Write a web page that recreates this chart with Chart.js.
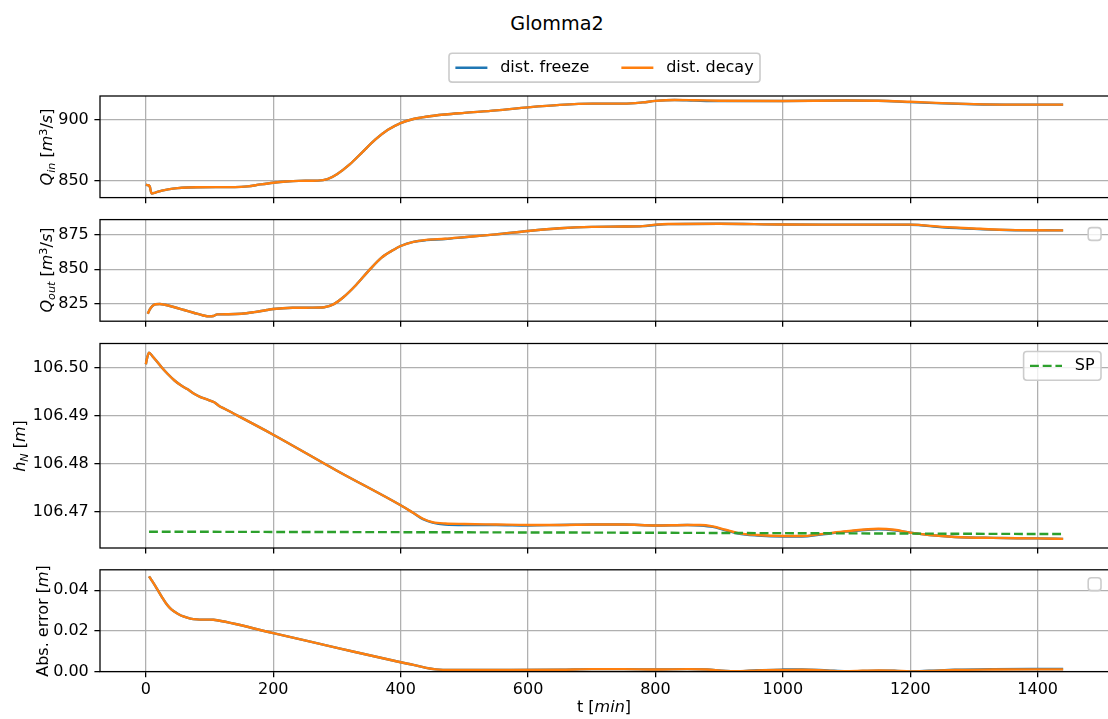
<!DOCTYPE html>
<html>
<head>
<meta charset="utf-8">
<title>Glomma2</title>
<script src="https://cdn.jsdelivr.net/npm/chart.js@4.4.1/dist/chart.umd.min.js"></script>
<style>
  html, body { margin: 0; padding: 0; background: #fff; overflow: hidden; }
  #fig { position: relative; width: 1108px; height: 719px; overflow: hidden;
         font-family: "DejaVu Sans", sans-serif; color: #000; }
  canvas { position: absolute; left: 0; }
  .txt { position: absolute; white-space: nowrap; font-size: 16px; line-height: 1;
         transform: translate(-50%, -50%); }
  .ylab { transform: translate(-50%, -50%) rotate(-90deg); }
  .txt sub, .txt sup { font-size: 70%; line-height: 0; }
  .txt sub { vertical-align: -0.25em; }
  .txt sup { vertical-align: 0.45em; }
  #title { font-size: 19.2px; }
</style>
</head>
<body>
<div id="fig">
  <div class="txt" id="title" style="left:557px; top:24px">Glomma2</div>
  <canvas id="c1"></canvas>
  <canvas id="c2"></canvas>
  <canvas id="c3"></canvas>
  <canvas id="c4"></canvas>
  <div class="txt ylab" style="left:47px; top:147px"><i>Q</i><sub><i>in</i></sub> [<i>m</i><sup>3</sup>/<i>s</i>]</div>
  <div class="txt ylab" style="left:47px; top:270px"><i>Q</i><sub><i>out</i></sub> [<i>m</i><sup>3</sup>/<i>s</i>]</div>
  <div class="txt ylab" style="left:20px; top:446px"><i>h</i><sub><i>N</i></sub> [<i>m</i>]</div>
  <div class="txt ylab" style="left:43px; top:621px">Abs. error [<i>m</i>]</div>
  <div class="txt" style="left:604px; top:707px">t [<i>min</i>]</div>
</div>
<script>
// ---- data (time in minutes) ----
const X_TICKS = [0, 200, 400, 600, 800, 1000, 1200, 1400];

const T_QIN = [0, 3, 6, 9, 15, 25, 35, 50, 65, 80, 110, 140, 160, 180, 200, 220, 240, 270, 285, 300,
  320, 340, 360, 380, 400, 420, 440, 470, 500, 550, 600, 650, 700, 750, 780, 800, 830, 860, 900, 1000,
  1100, 1150, 1200, 1250, 1300, 1350, 1400, 1440];
const QIN_FREEZE = [847.0, 846.6, 845.6, 839.8, 840.6, 842.2, 843.2, 844.2, 844.7, 844.9, 845.0, 845.0,
  845.6, 847.2, 848.6, 849.6, 850.1, 850.3, 851.5, 855.5, 863.5, 873.5, 883.5, 891.5, 897.0, 900.3, 902.2,
  904.0, 905.3, 907.3, 909.8, 911.8, 912.8, 912.8, 913.8, 915.0, 915.7, 915.3, 914.9, 915.0, 915.3, 915.1,
  914.0, 913.0, 912.3, 912.0, 912.0, 912.0];
const QIN_DECAY = [847.0, 846.6, 845.6, 839.8, 840.6, 842.2, 843.2, 844.2, 844.7, 844.9, 845.0, 845.0,
  845.6, 847.2, 848.6, 849.6, 850.1, 850.3, 851.5, 855.5, 863.5, 873.5, 883.5, 891.5, 897.0, 900.3, 902.2,
  904.0, 905.3, 907.3, 909.8, 911.8, 912.8, 912.8, 913.8, 915.0, 915.8, 915.6, 915.2, 915.0, 915.3, 915.2,
  914.3, 913.2, 912.4, 912.0, 912.0, 912.0];
const QIN_TICKS = [850, 900];

const T_QOUT = [3, 6, 10, 15, 22, 30, 45, 60, 75, 90, 100, 106, 112, 130, 150, 170, 190, 200, 230, 260,
  280, 295, 310, 330, 350, 370, 390, 400, 420, 440, 470, 500, 550, 600, 650, 700, 750, 780, 800, 820,
  900, 1000, 1100, 1200, 1250, 1300, 1350, 1400, 1440];
const QOUT_FREEZE = [817.4, 820.5, 823.0, 824.4, 824.6, 824.0, 822.2, 820.2, 818.2, 816.2, 815.5, 815.8,
  817.0, 817.1, 817.4, 818.6, 820.2, 820.9, 821.8, 821.9, 822.2, 824.5, 829.5, 838.5, 849.0, 858.5, 864.5,
  867.0, 870.0, 871.3, 872.1, 873.4, 875.5, 878.0, 880.0, 881.0, 881.2, 881.5, 882.4, 883.0, 883.3, 882.7,
  882.6, 882.5, 880.7, 879.5, 878.7, 878.5, 878.4];
const QOUT_DECAY = [817.4, 820.5, 823.0, 824.4, 824.6, 824.0, 822.2, 820.2, 818.2, 816.2, 815.5, 815.8,
  817.0, 817.1, 817.4, 818.6, 820.2, 820.9, 821.8, 821.9, 822.2, 824.5, 829.5, 838.5, 849.0, 858.5, 864.5,
  867.0, 870.0, 871.5, 872.3, 873.5, 875.5, 878.0, 880.0, 881.0, 881.2, 881.5, 882.6, 883.1, 883.3, 882.7,
  882.6, 882.6, 881.0, 879.8, 878.8, 878.5, 878.4];
const QOUT_TICKS = [825, 850, 875];

const T_H = [0, 2, 5, 10, 17, 25, 34, 45, 55, 65, 75, 85, 95, 103, 108, 115, 125, 200, 300, 400,
  420, 435, 450, 470, 500, 550, 600, 650, 700, 750, 800, 850, 870, 890, 910, 930, 960, 1000, 1030, 1060,
  1100, 1150, 1175, 1200, 1230, 1270, 1330, 1400, 1440];
const H_FREEZE = [106.5007, 106.5020, 106.5031, 106.5024, 106.5013, 106.5000, 106.4987, 106.4973, 106.4963,
  106.4955, 106.4946, 106.4939, 106.4934, 106.4930, 106.4927, 106.4920, 106.4913, 106.4860, 106.4785,
  106.4713, 106.4697, 106.4684, 106.4677, 106.4673, 106.4672, 106.4672, 106.4671, 106.4672, 106.4673,
  106.4673, 106.4671, 106.4672, 106.4671, 106.4668, 106.4661, 106.4654, 106.4650, 106.4648, 106.4648,
  106.4652, 106.4658, 106.4663, 106.4661, 106.4656, 106.4651, 106.4647, 106.4645, 106.4644, 106.4643];
const H_DECAY = [106.5007, 106.5020, 106.5031, 106.5024, 106.5013, 106.5000, 106.4987, 106.4973, 106.4963,
  106.4955, 106.4946, 106.4939, 106.4934, 106.4930, 106.4927, 106.4920, 106.4913, 106.4860, 106.4785,
  106.4713, 106.4697, 106.4685, 106.4678, 106.4675, 106.4674, 106.4673, 106.4672, 106.4672, 106.4673,
  106.4673, 106.4671, 106.4672, 106.4672, 106.4669, 106.4662, 106.4655, 106.4651, 106.4649, 106.4649,
  106.4653, 106.4659, 106.4664, 106.4662, 106.4656, 106.4651, 106.4647, 106.4645, 106.4644, 106.4643];
const T_SP = [5, 720, 1440];
const SP = [106.4658, 106.4656, 106.4653];
const H_TICKS = [106.47, 106.48, 106.49, 106.50];

const T_ERR = [5, 10, 17, 25, 33, 40, 50, 60, 70, 80, 90, 100, 106, 200, 300, 400, 420, 440, 455, 480,
  550, 650, 700, 750, 800, 850, 880, 910, 930, 960, 1000, 1030, 1070, 1100, 1150, 1175, 1200, 1230, 1270,
  1330, 1400, 1440];
const ERR_FREEZE = [0.0469, 0.0445, 0.0410, 0.0368, 0.0330, 0.0306, 0.0285, 0.0270, 0.0261, 0.0257, 0.0256,
  0.0256, 0.0255, 0.0189, 0.0117, 0.0046, 0.0033, 0.0018, 0.0011, 0.0008, 0.0008, 0.0009, 0.0012, 0.0012,
  0.0010, 0.0012, 0.0010, 0.0003, 0.0002, 0.0007, 0.0010, 0.0011, 0.0006, 0.0002, 0.0005, 0.0004, 0.0001,
  0.0004, 0.0009, 0.0012, 0.0013, 0.0013];
const ERR_DECAY = [0.0469, 0.0445, 0.0410, 0.0368, 0.0330, 0.0306, 0.0285, 0.0270, 0.0261, 0.0257, 0.0256,
  0.0256, 0.0255, 0.0189, 0.0117, 0.0046, 0.0033, 0.0018, 0.0011, 0.0008, 0.0008, 0.0009, 0.0012, 0.0012,
  0.0010, 0.0012, 0.0010, 0.0003, 0.0002, 0.0006, 0.0008, 0.0009, 0.0005, 0.0002, 0.0006, 0.0005, 0.0001,
  0.0003, 0.0008, 0.0010, 0.0011, 0.0011];
const ERR_TICKS = [0, 0.02, 0.04];

// ---- look ----
const PX = 1.6;                 // pixels per point
const FS = 10 * PX;             // base font size
const FONT = '"DejaVu Sans", sans-serif';
const GRID = '#b0b0b0';
const C_FREEZE = '#1f77b4', C_DECAY = '#ff7f0e', C_SP = '#2ca02c';
const LW = 1.5 * PX;
const FIG_W = 1109, AX_LEFT = 100;
const X_MIN = -72, X_MAX = 1512;

Chart.defaults.font.family = FONT;
Chart.defaults.font.size = FS;
Chart.defaults.color = '#000';

// black box around each axes
const frame = {
  id: 'frame',
  afterDatasetsDraw(chart) {
    const { ctx, chartArea: a } = chart;
    ctx.save();
    ctx.strokeStyle = '#000';
    ctx.lineWidth = 0.8 * PX;
    ctx.strokeRect(a.left, a.top, a.right - a.left, a.bottom - a.top);
    ctx.restore();
  }
};

// matplotlib-style legend box (figure-level or upper right of the axes)
const boxLegend = {
  id: 'boxLegend',
  defaults: { place: null, key: null, top: 0 },
  afterDraw(chart, _args, opts) {
    if (!opts.place) return;
    const { ctx, chartArea: area } = chart;
    const items = chart.data.datasets.filter(d => d[opts.key]);
    const pad = 0.4 * FS, handle = 2 * FS, gap = 0.8 * FS, colGap = 2 * FS;
    ctx.save();
    ctx.font = FS + 'px ' + FONT;
    const tw = items.map(d => ctx.measureText(d.label).width);
    let w = 2 * pad, h = 2 * pad;
    if (items.length) {
      w += tw.reduce((s, v) => s + handle + gap + v, 0) + colGap * (items.length - 1);
      h += FS;
    }
    let x, y;
    if (opts.place === 'figure') {
      x = (area.left + area.right) / 2 - w / 2;
      y = opts.top;
    } else {
      x = area.right - 0.5 * FS - w;
      y = area.top + 0.5 * FS;
    }
    ctx.beginPath();
    ctx.roundRect(x, y, w, h, 0.2 * FS);
    ctx.fillStyle = 'rgba(255,255,255,0.8)';
    ctx.fill();
    ctx.lineWidth = PX;
    ctx.strokeStyle = '#cccccc';
    ctx.stroke();
    let cx = x + pad;
    const cy = y + h / 2;
    items.forEach((d, i) => {
      ctx.beginPath();
      ctx.setLineDash(d.borderDash || []);
      ctx.strokeStyle = d.borderColor;
      ctx.lineWidth = d.borderWidth;
      ctx.moveTo(cx, cy);
      ctx.lineTo(cx + handle, cy);
      ctx.stroke();
      ctx.setLineDash([]);
      ctx.fillStyle = '#000';
      ctx.textBaseline = 'middle';
      ctx.textAlign = 'left';
      ctx.fillText(d.label, cx + handle + gap, cy);
      cx += handle + gap + tw[i] + colGap;
    });
    ctx.restore();
  }
};

Chart.register(frame, boxLegend);

function series(t, v) {
  return t.map((x, i) => ({ x, y: v[i] }));
}

function pair(t, freeze, decay, flag) {
  return [
    { label: 'dist. freeze', data: series(t, freeze), borderColor: C_FREEZE, borderWidth: LW, order: 2, [flag]: true },
    { label: 'dist. decay', data: series(t, decay), borderColor: C_DECAY, borderWidth: LW, order: 1, [flag]: true }
  ];
}

// one axes per canvas; p gives canvas span and axes top/bottom in page pixels
function makePanel(id, p) {
  const canvas = document.getElementById(id);
  canvas.width = FIG_W;
  canvas.height = p.cBottom - p.cTop;
  canvas.style.top = p.cTop + 'px';
  const gridOpts = {
    color: GRID, lineWidth: 0.8 * PX,
    drawTicks: true, tickLength: 3.5 * PX, tickColor: '#000', tickWidth: 0.8 * PX
  };
  return new Chart(canvas, {
    type: 'line',
    data: { datasets: p.datasets },
    options: {
      responsive: false,
      animation: false,
      events: [],
      layout: { padding: { top: p.top - p.cTop, left: 0, right: 0, bottom: 0 }, autoPadding: false },
      elements: { point: { radius: 0 }, line: { cubicInterpolationMode: 'monotone' } },
      plugins: {
        legend: { display: false },
        tooltip: { enabled: false },
        boxLegend: p.legend
      },
      scales: {
        x: {
          type: 'linear', min: X_MIN, max: X_MAX,
          afterBuildTicks: s => { s.ticks = X_TICKS.map(v => ({ value: v })); },
          afterFit: s => { s.height = p.cBottom - p.bottom; s.paddingLeft = 0; s.paddingRight = 0; },
          border: { display: false },
          grid: gridOpts,
          ticks: {
            display: !!p.xLabels, padding: 3.5, color: '#000', font: { size: FS },
            maxRotation: 0, autoSkip: false, callback: v => String(v)
          }
        },
        y: {
          type: 'linear', min: p.yMin, max: p.yMax,
          afterBuildTicks: s => { s.ticks = p.yTicks.map(v => ({ value: v })); },
          afterFit: s => { s.width = AX_LEFT; s.paddingTop = 0; s.paddingBottom = 0; },
          border: { display: false },
          grid: gridOpts,
          ticks: { padding: 3.5 * PX, color: '#000', font: { size: FS }, autoSkip: false, callback: p.yFmt }
        }
      }
    }
  });
}

makePanel('c1', {
  cTop: 0, cBottom: 208, top: 96, bottom: 197.6,
  yMin: 836.5, yMax: 919, yTicks: QIN_TICKS, yFmt: v => String(v),
  datasets: pair(T_QIN, QIN_FREEZE, QIN_DECAY, 'figLegend'),
  legend: { place: 'figure', key: 'figLegend', top: 53.3 }
});

makePanel('c2', {
  cTop: 208, cBottom: 333, top: 219.6, bottom: 321.2,
  yMin: 812, yMax: 886.3, yTicks: QOUT_TICKS, yFmt: v => String(v),
  datasets: pair(T_QOUT, QOUT_FREEZE, QOUT_DECAY, 'none'),
  legend: { place: 'upper right', key: 'axLegend' }
});

makePanel('c3', {
  cTop: 333, cBottom: 559, top: 343.5, bottom: 548,
  yMin: 106.4624, yMax: 106.505, yTicks: H_TICKS, yFmt: v => v.toFixed(2),
  datasets: pair(T_H, H_FREEZE, H_DECAY, 'none').concat([
    { label: 'SP', data: series(T_SP, SP), borderColor: C_SP, borderWidth: LW,
      borderDash: [3.7 * LW, 1.6 * LW], order: 0, axLegend: true }
  ]),
  legend: { place: 'upper right', key: 'axLegend' }
});

makePanel('c4', {
  cTop: 559, cBottom: 719, top: 569.8, bottom: 671.6, xLabels: true,
  yMin: 0, yMax: 0.0501, yTicks: ERR_TICKS, yFmt: v => v.toFixed(2),
  datasets: pair(T_ERR, ERR_FREEZE, ERR_DECAY, 'none'),
  legend: { place: 'upper right', key: 'axLegend' }
});
</script>
</body>
</html>
